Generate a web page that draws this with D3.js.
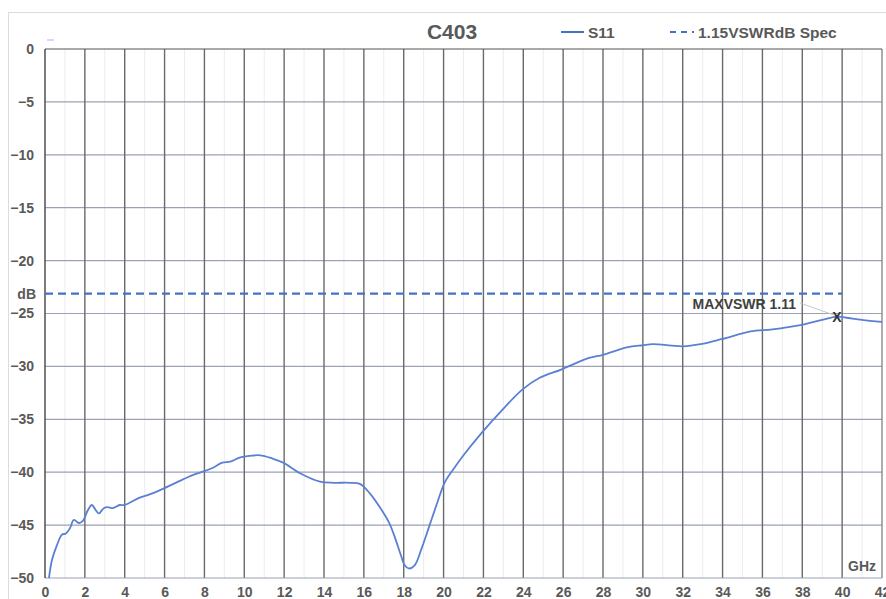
<!DOCTYPE html>
<html><head><meta charset="utf-8">
<script src="https://cdn.jsdelivr.net/npm/d3@7"></script>
<style>body{margin:0;background:#fff;} svg{display:block;font-family:"Liberation Sans",Arial,sans-serif;}</style>
</head><body>
<script>
const freq = [0.2,0.35,0.6,0.85,1.05,1.25,1.45,1.7,1.9,2.15,2.35,2.55,2.7,2.95,3.15,3.4,3.75,4.0,4.75,5.25,6.0,6.9,7.5,8.0,8.4,8.9,9.3,9.8,10.3,10.8,11.4,11.95,12.8,13.8,14.5,15.3,15.8,16.3,16.9,17.3,17.6,17.85,18.05,18.25,18.55,18.9,19.3,19.7,20.05,20.5,21.0,21.9,22.95,23.95,24.8,25.9,27.3,28.0,29.2,30.0,30.5,32.0,32.9,34.0,35.4,36.5,37.9,39.0,39.75,40.2,41.0,42.0];
const s11 = [-50,-48.3,-46.9,-45.9,-45.8,-45.3,-44.5,-44.8,-44.6,-43.6,-43.1,-43.6,-43.9,-43.4,-43.3,-43.4,-43.1,-43.1,-42.4,-42.1,-41.5,-40.7,-40.2,-39.9,-39.6,-39.1,-39.0,-38.6,-38.45,-38.4,-38.7,-39.1,-40.1,-40.9,-41.0,-41.0,-41.1,-42.0,-43.6,-44.9,-46.4,-47.8,-48.8,-49.1,-48.8,-47.2,-45.0,-42.8,-41.0,-39.7,-38.4,-36.3,-34.1,-32.2,-31.1,-30.3,-29.2,-28.9,-28.2,-28.0,-27.9,-28.1,-27.9,-27.4,-26.7,-26.5,-26.1,-25.6,-25.3,-25.4,-25.6,-25.8];
const specFreq = [0, 40];
const specDb = [-23.13, -23.13];
const xTicks = [0,2,4,6,8,10,12,14,16,18,20,22,24,26,28,30,32,34,36,38,40,42];
const yTicks = [0,-5,-10,-15,-20,-25,-30,-35,-40,-45,-50];
const maxPoint = {f: 39.74, db: -25.33, label: "MAXVSWR 1.11"};
const title = "C403";
const seriesNames = ["S11", "1.15VSWRdB Spec"];

const W = 886, H = 599;
const m = {l:45, t:49, r:882, b:578};
const svg = d3.select("body").append("svg").attr("width", W).attr("height", H);
const x = d3.scaleLinear().domain([0,42]).range([m.l, m.r]);
const y = d3.scaleLinear().domain([-50,0]).range([m.b, m.t]);

// outer frame
svg.append("rect").attr("x",8.5).attr("y",12.5).attr("width",W).attr("height",H).attr("fill","none").attr("stroke","#dcdcdc");

const g = svg.append("g");
// minor vertical grid
d3.range(1,42,2).forEach(v=>{
  g.append("line").attr("x1",x(v)).attr("x2",x(v)).attr("y1",m.t).attr("y2",m.b).attr("stroke","#ececec").attr("stroke-width",1);
});
// horizontal grid
yTicks.forEach(v=>{
  if (v===0||v===-50) return;
  g.append("line").attr("x1",m.l).attr("x2",m.r).attr("y1",y(v)).attr("y2",y(v)).attr("stroke","#9aa2b4").attr("stroke-width",1.2);
});
// major vertical grid
xTicks.forEach(v=>{
  if (v===0) return;
  g.append("line").attr("x1",x(v)).attr("x2",x(v)).attr("y1",m.t).attr("y2",m.b).attr("stroke", v===42?"#8a8a8a":"#6a6a6a").attr("stroke-width",1.4);
});
// borders
g.append("line").attr("x1",m.l).attr("x2",m.r).attr("y1",m.t).attr("y2",m.t).attr("stroke","#555").attr("stroke-width",1.2);
g.append("line").attr("x1",m.l).attr("x2",m.r).attr("y1",m.b).attr("y2",m.b).attr("stroke","#9aa2b4").attr("stroke-width",1.2);
g.append("line").attr("x1",m.l).attr("x2",m.l).attr("y1",m.t).attr("y2",m.b).attr("stroke","#444").attr("stroke-width",1.4);

// axes labels
const yAxis = d3.axisLeft(y).tickValues(yTicks).tickSize(0).tickPadding(11);
svg.append("g").attr("transform",`translate(${m.l},0)`).call(yAxis)
  .call(a=>a.select(".domain").remove())
  .selectAll("text").attr("fill","#595959").attr("font-size",14).attr("font-weight","bold").attr("font-family","Liberation Sans, Arial, sans-serif");
const xAxis = d3.axisBottom(x).tickValues(xTicks).tickSize(0).tickPadding(9);
svg.append("g").attr("transform",`translate(0,${m.b})`).call(xAxis)
  .call(a=>a.select(".domain").remove())
  .selectAll("text").attr("fill","#595959").attr("font-size",14).attr("font-weight","bold").attr("font-family","Liberation Sans, Arial, sans-serif");

svg.append("text").attr("x",36).attr("y",y(-23.13)+5).attr("text-anchor","end").attr("fill","#595959").attr("font-size",14).attr("font-weight","bold").text("dB");
svg.append("text").attr("x",876).attr("y",571).attr("text-anchor","end").attr("fill","#595959").attr("font-size",14).attr("font-weight","bold").text("GHz");

// spec line
const line = d3.line().x(d=>x(d[0])).y(d=>y(d[1]));
svg.append("path").datum(specFreq.map((f,i)=>[f,specDb[i]])).attr("d",line)
  .attr("fill","none").attr("stroke","#4472c4").attr("stroke-width",2.2).attr("stroke-dasharray","8,5");

// S11 curve
const curve = d3.line().x(d=>x(d[0])).y(d=>y(d[1])).curve(d3.curveCatmullRom.alpha(0.5));
svg.append("path").datum(freq.map((f,i)=>[f,s11[i]])).attr("d",curve)
  .attr("fill","none").attr("stroke","#5b80d3").attr("stroke-width",1.8);

// annotation
const mx = x(maxPoint.f), my = y(maxPoint.db);
svg.append("line").attr("x1",800).attr("y1",303).attr("x2",mx-3).attr("y2",my-2).attr("stroke","#c8c8c8").attr("stroke-width",1);
svg.append("text").attr("x",796).attr("y",309).attr("text-anchor","end").attr("fill","#404040").attr("font-size",14).attr("font-weight","bold").text(maxPoint.label);
svg.append("text").attr("x",mx).attr("y",my+5).attr("text-anchor","middle").attr("fill","#333").attr("font-size",14).attr("font-weight","bold").text("X");

// title and legend
svg.append("text").attr("x",452).attr("y",39).attr("text-anchor","middle").attr("fill","#595959").attr("font-size",21).attr("font-weight","bold").text(title);
svg.append("line").attr("x1",561).attr("x2",584).attr("y1",32).attr("y2",32).attr("stroke","#4472c4").attr("stroke-width",2);
svg.append("text").attr("x",588).attr("y",37.5).attr("fill","#595959").attr("font-size",15.5).attr("font-weight","bold").text(seriesNames[0]);
svg.append("line").attr("x1",670).attr("x2",694).attr("y1",32).attr("y2",32).attr("stroke","#4472c4").attr("stroke-width",2.2).attr("stroke-dasharray","6,5");
svg.append("text").attr("x",698).attr("y",37.5).attr("fill","#595959").attr("font-size",15.5).attr("font-weight","bold").text(seriesNames[1]);
// small mark near top-left
svg.append("line").attr("x1",47).attr("x2",54).attr("y1",40).attr("y2",40).attr("stroke","#c8c8f4").attr("stroke-width",1.5);
</script>
</body></html>
